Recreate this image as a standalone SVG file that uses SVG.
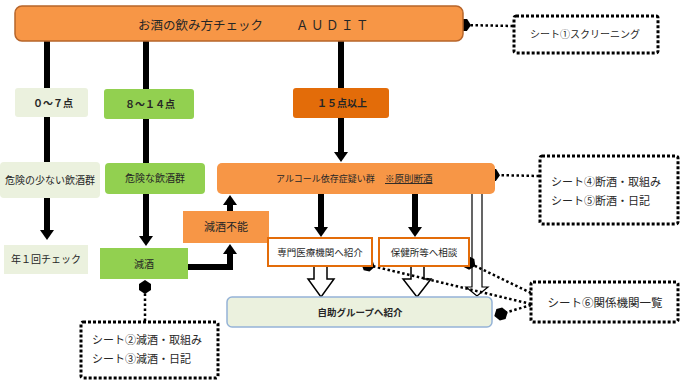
<svg xmlns="http://www.w3.org/2000/svg" width="680" height="381" viewBox="0 0 680 381">
<style>
text{font-family:"Noto Sans CJK JP","Noto Sans",sans-serif;fill:#262626}
.lbl{font-size:10px;text-anchor:middle}
.b{font-weight:bold}
.sheet{fill:#fff;stroke:#000;stroke-width:3;stroke-dasharray:3 2}
.st{font-size:10.5px}
.thick{stroke:#000;stroke-width:6;fill:none}
.dot{stroke:#000;stroke-width:2.5;stroke-dasharray:2.5 2.5;fill:none}
.hollow{fill:#fff;stroke:#000;stroke-width:1.5}
</style>
<defs>
<marker id="ah" viewBox="0 0 10 14" refX="1" refY="7" markerWidth="10" markerHeight="14" markerUnits="userSpaceOnUse" orient="auto"><path d="M0,0 L10,7 L0,14Z" fill="#000"/></marker>
<marker id="dia" viewBox="0 0 14 14" refX="7" refY="7" markerWidth="14" markerHeight="14" markerUnits="userSpaceOnUse" orient="auto"><path d="M0,7 L4,1 L10,1 L14,7 L10,13 L4,13Z" fill="#000"/></marker>
</defs>

<g id="connectors">
<line class="thick" x1="47" y1="41" x2="47" y2="88"/>
<line class="thick" x1="47" y1="117" x2="47" y2="162"/>
<line class="thick" x1="47" y1="198" x2="47" y2="231" marker-end="url(#ah)"/>
<line class="thick" x1="146" y1="41" x2="146" y2="89"/>
<line class="thick" x1="146" y1="119" x2="146" y2="163"/>
<line class="thick" x1="146" y1="194" x2="146" y2="237" marker-end="url(#ah)"/>
<line class="thick" x1="341" y1="41" x2="341" y2="88"/>
<line class="thick" x1="341" y1="118" x2="341" y2="153" marker-end="url(#ah)"/>
<line class="thick" x1="230" y1="211" x2="230" y2="204" marker-end="url(#ah)"/>
<path class="thick" d="M188,267 H230 V253" marker-end="url(#ah)"/>
<line class="thick" x1="321" y1="194" x2="321" y2="228" marker-end="url(#ah)"/>
<line class="thick" x1="415" y1="194" x2="415" y2="228" marker-end="url(#ah)"/>
<polygon class="hollow" points="314,266 327,266 327,279 334,279 321,297 308,279 314,279"/>
<polygon class="hollow" points="411,266 424,266 424,279 431,279 417,297 403,279 411,279"/>
<polygon class="hollow" points="472,193 472,287 466,287 477,296 488,287 482,287 482,193" style="stroke-width:1.2"/>
<line class="dot" x1="513" y1="26" x2="464" y2="25" marker-end="url(#dia)"/>
<line class="dot" x1="539" y1="176" x2="493" y2="175" marker-end="url(#dia)"/>
<line class="dot" x1="531" y1="304" x2="368" y2="265" marker-end="url(#dia)"/>
<line class="dot" x1="531" y1="293" x2="469" y2="263" marker-end="url(#dia)"/>
<line class="dot" x1="531" y1="305" x2="501" y2="314" marker-end="url(#dia)"/>
<line class="dot" x1="145" y1="321" x2="145" y2="287" marker-end="url(#dia)"/>
</g>

<g id="audit">
<rect x="15" y="6" width="448" height="35" rx="7" fill="#F79646" stroke="#B7652A" stroke-width="1.5"/>
<text x="138" y="30" style="font-size:12.5px">お酒の飲み方チェック<tspan x="296" letter-spacing="2.5">ＡＵＤＩＴ</tspan></text>
</g>

<g id="screening">
<rect class="sheet" x="514" y="16" width="144" height="37" rx="2"/>
<text class="st" x="585" y="38" text-anchor="middle" style="font-size:10px">シート①スクリーニング</text>
</g>

<g id="score0-7">
<rect x="15" y="88" width="73" height="29" rx="3" fill="#EBF1DE"/>
<text class="lbl b" x="53" y="107">０～７点</text>
</g>
<g id="score8-14">
<rect x="104" y="89" width="90" height="30" rx="3" fill="#92D050"/>
<text class="lbl b" x="150" y="108">８～１４点</text>
</g>
<g id="score15">
<rect x="293" y="88" width="96" height="30" rx="3" fill="#E36C09"/>
<text class="lbl b" x="342" y="107">１５点以上</text>
</g>

<g id="lowrisk">
<rect x="0" y="162" width="100" height="36" rx="4" fill="#EBF1DE"/>
<text class="lbl" x="50" y="184">危険の少ない飲酒群</text>
</g>
<g id="risky">
<rect x="105" y="163" width="100" height="31" rx="4" fill="#92D050"/>
<text class="lbl" x="155" y="182">危険な飲酒群</text>
</g>
<g id="dependence">
<rect x="217" y="163" width="278" height="31" rx="5" fill="#F79646"/>
<text x="276" y="182" style="font-size:9px">アルコール依存症疑い群<tspan x="385" style="font-size:9.5px" text-decoration="underline">※原則断酒</tspan></text>
</g>

<g id="yearly">
<rect x="4" y="245" width="84" height="29" fill="#EBF1DE"/>
<text class="lbl" x="46" y="263">年１回チェック</text>
</g>
<g id="reduce">
<rect x="100" y="248" width="88" height="31" fill="#92D050"/>
<text class="lbl" x="144" y="268">減酒</text>
</g>
<g id="cannot">
<rect x="183" y="211" width="86" height="32" fill="#F79646"/>
<text class="lbl" x="226" y="231" style="font-size:11px">減酒不能</text>
</g>
<g id="specialist">
<rect x="268" y="238" width="104" height="28" fill="#fff" stroke="#E36C09" stroke-width="2"/>
<text class="lbl" x="320" y="256" style="font-size:9.5px">専門医療機関へ紹介</text>
</g>
<g id="healthcenter">
<rect x="379" y="238" width="90" height="28" fill="#fff" stroke="#E36C09" stroke-width="2"/>
<text class="lbl" x="424" y="256" style="font-size:9.5px">保健所等へ相談</text>
</g>
<g id="selfhelp">
<rect x="227" y="297" width="265" height="30" rx="5" fill="#EBF1DE" stroke="#95B3D7" stroke-width="1.5"/>
<text class="lbl b" x="360" y="316" style="font-size:9.5px">自助グループへ紹介</text>
</g>

<g id="sheet45">
<rect class="sheet" x="540" y="156" width="138" height="68" rx="2"/>
<text class="st" x="551" y="186" style="font-size:11px">シート④断酒・取組み</text>
<text class="st" x="551" y="205" style="font-size:11px">シート⑤断酒・日記</text>
</g>
<g id="sheet6">
<rect class="sheet" x="531" y="282" width="147" height="40" rx="2"/>
<text class="st" x="605" y="307" text-anchor="middle" style="font-size:11.5px">シート⑥関係機関一覧</text>
</g>
<g id="sheet23">
<rect class="sheet" x="81" y="322" width="137" height="56" rx="2"/>
<text class="st" x="92" y="344" style="font-size:11px">シート②減酒・取組み</text>
<text class="st" x="92" y="363" style="font-size:11px">シート③減酒・日記</text>
</g>
</svg>
